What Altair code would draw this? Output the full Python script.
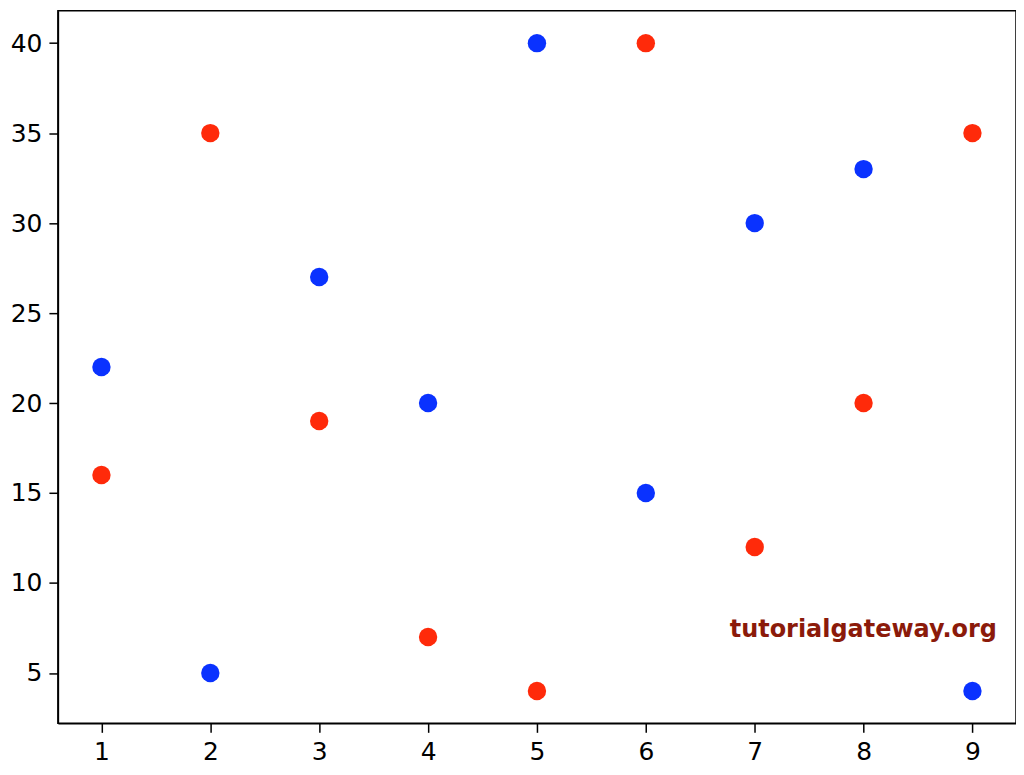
import altair as alt
import pandas as pd

x_vals = [1, 2, 3, 4, 5, 6, 7, 8, 9]
blue_y = [22, 5, 27, 20, 40, 15, 30, 33, 4]
red_y = [16, 35, 19, 7, 4, 40, 12, 20, 35]
y_ticks = [5, 10, 15, 20, 25, 30, 35, 40]

df = pd.DataFrame({
    "x": x_vals * 2,
    "y": blue_y + red_y,
    "series": ["blue"] * 9 + ["red"] * 9,
})

xscale = alt.Scale(domain=[0.6, 9.4], nice=False, zero=False)
yscale = alt.Scale(domain=[2.2, 41.8], nice=False, zero=False)

axis_common = dict(
    grid=False, domainColor="black", tickColor="black", tickSize=9,
    labelFontSize=25, labelFont="DejaVu Sans", labelColor="black",
    domainWidth=1.5, tickWidth=1.5, title=None, labelPadding=7,
)

points = alt.Chart(df).mark_circle(size=340, opacity=1).encode(
    x=alt.X("x:Q", scale=xscale, axis=alt.Axis(values=x_vals, format="d", **axis_common)),
    y=alt.Y("y:Q", scale=yscale, axis=alt.Axis(values=y_ticks, format="d", **axis_common)),
    color=alt.Color("series:N", scale=alt.Scale(domain=["blue", "red"], range=["#0a32ff", "#ff2a0a"]), legend=None),
)

wm = alt.Chart(pd.DataFrame({"t": ["tutorialgateway.org"]})).mark_text(
    font="DejaVu Sans", fontWeight="bold", fontSize=24, color="#8b1a0a", align="center", baseline="middle"
).encode(text="t:N", x=alt.value(807), y=alt.value(620))

chart = alt.layer(points, wm).properties(
    width=960, height=714,
    autosize=alt.AutoSizeParams(type="none"),
    padding={"left": 50, "top": 2, "right": 0, "bottom": 45},
).configure_view(stroke="black", strokeWidth=1.5)

chart.save("out.html", embed_options={"renderer": "svg", "actions": False})
